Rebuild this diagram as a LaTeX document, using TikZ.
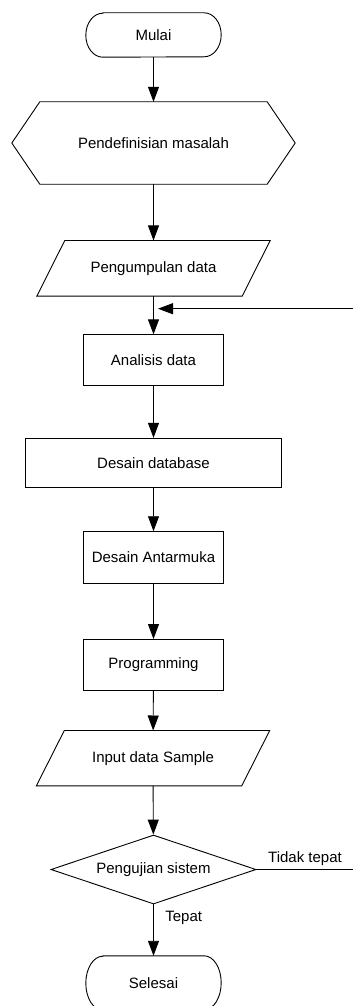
\documentclass[tikz,border=0pt]{standalone}
\usepackage{fontspec}
\setmainfont{Liberation Sans}
\usetikzlibrary{arrows.meta,shapes.geometric}
\begin{document}
\begin{tikzpicture}[x=1pt,y=-1pt,
  every node/.style={font=\fontsize{15}{18}\selectfont, inner sep=0pt},
  lw/.style={line width=0.9pt},
  flow/.style={lw, -{Triangle[length=15pt,width=11pt]}},
  outline/.style={lw, line join=miter},
  process/.style={draw, lw, rectangle, minimum width=140pt, minimum height=51pt},
  decision/.style={draw, lw, diamond, aspect=2.97, minimum width=205pt, minimum height=69pt},
  plain/.style 2 args={rectangle, minimum width=#1, minimum height=#2}
]
\useasboundingbox (0,0) rectangle (353,1006);

% start (terminal with elliptic ends)
\node[plain={135pt}{44pt}] (mulai) at (153.5,35) {Mulai};
\draw[outline] ([xshift=17pt]mulai.north west) -- ([xshift=-17pt]mulai.north east)
  arc[start angle=90, end angle=-90, x radius=17pt, y radius=22pt]
  -- ([xshift=17pt]mulai.south west)
  arc[start angle=270, end angle=90, x radius=17pt, y radius=22pt] -- cycle;

% preparation (hexagon)
\node[plain={283pt}{82pt}] (hex) at (153.5,143) {Pendefinisian masalah};
\draw[outline] (hex.west) -- ([xshift=28pt]hex.north west) -- ([xshift=-28pt]hex.north east)
  -- (hex.east) -- ([xshift=-28pt]hex.south east) -- ([xshift=28pt]hex.south west) -- cycle;

% data input (parallelogram)
\node[plain={233pt}{55.3pt}] (kumpul) at (153.5,268.3) {Pengumpulan data};
\draw[outline] (kumpul.south west) -- ([xshift=-28pt]kumpul.south east) -- (kumpul.north east)
  -- ([xshift=28pt]kumpul.north west) -- cycle;

% processes
\node[process] (analisis) at (153.5,360.3) {Analisis data};
\node[process, minimum width=256pt, minimum height=49pt] (db) at (153.5,462.8) {Desain database};
\node[process, minimum height=51.6pt] (ui) at (153.5,557.5) {Desain Antarmuka};
\node[process] (prog) at (153.5,665) {Programming};

% sample input (parallelogram)
\node[plain={233pt}{55pt}] (input) at (153,758.2) {Input data Sample};
\draw[outline] (input.south west) -- ([xshift=-28pt]input.south east) -- (input.north east)
  -- ([xshift=28pt]input.north west) -- cycle;

% test decision
\node[decision] (uji) at (153.5,869.5) {Pengujian sistem};

% end (terminal with elliptic ends)
\node[plain={135pt}{54pt}] (selesai) at (153.5,983) {Selesai};
\draw[outline] ([xshift=17pt]selesai.north west) -- ([xshift=-17pt]selesai.north east)
  arc[start angle=90, end angle=-90, x radius=17pt, y radius=27pt]
  -- ([xshift=17pt]selesai.south west)
  arc[start angle=270, end angle=90, x radius=17pt, y radius=27pt] -- cycle;

% main flow
\draw[flow] (mulai) -- (hex);
\draw[flow] (hex) -- (kumpul);
\draw[flow] (kumpul) -- (analisis);
\draw[flow] (analisis) -- (db);
\draw[flow] (db) -- (ui);
\draw[flow] (ui) -- (prog);
\draw[flow] (prog) -- (input);
\draw[flow] (input) -- (uji);
\draw[flow] (uji) -- (selesai);

% loop back into analysis
\coordinate (loopR) at (353,308.7);
\coordinate (loopIn) at (158,308.7);
\draw[flow] (loopR) -- (loopIn);

% "not correct" branch
\coordinate (noR) at (353,869.5);
\draw[lw] (uji.east) -- (noR);
\node[anchor=base] (lblNo) at (305,862.5) {Tidak tepat};
\node[anchor=base] (lblYes) at (183.7,921) {Tepat};
\end{tikzpicture}
\end{document}
